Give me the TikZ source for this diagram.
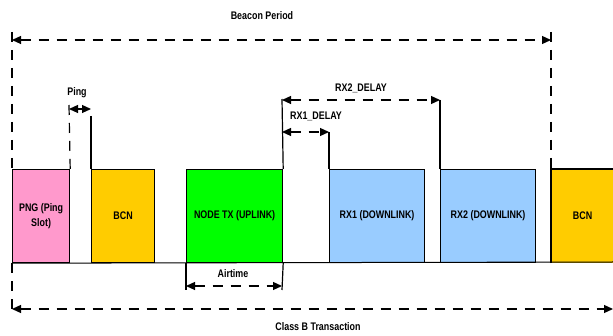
\documentclass[tikz,border=0pt]{standalone}
\usepackage{fontspec}
\setmainfont{Liberation Sans}
\newfontfamily\narrowb[FakeStretch=0.81]{Liberation Sans}
\usetikzlibrary{arrows.meta}
\definecolor{pngpink}{HTML}{FF99CC}
\definecolor{bcnorange}{HTML}{FFCC00}
\definecolor{txgreen}{HTML}{00FF00}
\definecolor{rxblue}{HTML}{99CCFF}
\tikzset{
  slot/.style={draw=black, line width=1.2pt, anchor=north west, minimum height=93pt, inner sep=0pt, align=center},
  lbl/.style={inner sep=0pt},
  dline/.style={line width=1.2pt, dash pattern=on 10pt off 8pt},
  sline/.style={line width=1.2pt},
  dbl/.style={{Triangle[length=9pt,width=8pt]}-{Triangle[length=9pt,width=8pt]}},
}
\begin{document}
\begin{tikzpicture}[x=1pt,y=-1pt,font=\narrowb\bfseries\fontsize{11}{15}\selectfont]
\useasboundingbox (0,0) rectangle (613,336);
% slots
\node[slot, fill=pngpink, minimum width=57pt] (png) at (12,169) {PNG (Ping\\Slot)};
\node[slot, fill=bcnorange, minimum width=63pt] (bcn1) at (91,169) {BCN};
\node[slot, fill=txgreen, minimum width=96pt] (tx) at (186,169) {NODE TX (UPLINK)};
\node[slot, fill=rxblue, minimum width=95pt] (rx1) at (329,169) {RX1 (DOWNLINK)};
\node[slot, fill=rxblue, minimum width=95pt] (rx2) at (440,169) {RX2 (DOWNLINK)};
\node[slot, draw=none, fill=bcnorange, minimum width=62pt] (bcn2) at (551,169) {BCN};
\draw[sline] (bcn2.south west) -- (bcn2.north west) -- (bcn2.north east);
% baseline
\coordinate (bend) at (613,262);
\draw[line width=1pt] (png.south west) -- (bend);
% coordinates
\coordinate (lt) at (12,32);
\coordinate (rt) at (551,32);
\coordinate (bl) at (12,40);
\coordinate (br) at (551,40);
\coordinate (cbl) at (12,309);
\coordinate (cbr) at (613,309);
\coordinate (pingA) at (69,105);
\coordinate (pingB) at (91,116);
\coordinate (pal) at (69,109);
\coordinate (par) at (91,109);
\coordinate (d0) at (282,99);
\coordinate (r2a) at (282,100);
\coordinate (r2b) at (440,100);
\coordinate (r1a) at (282,132);
\coordinate (r1b) at (329,132);
\coordinate (ta) at (186,290);
\coordinate (tb) at (282,290);
\coordinate (aa) at (186,286);
\coordinate (ab) at (282,286);
% beacon period
\draw[dline] (lt) -- (png.north west);
\draw[dline] (rt) -- (bcn2.north west);
\draw[dline, dbl] (bl) -- (br);
\node[lbl] (bp) at (262,16) {Beacon Period};
% ping
\draw[dline] (pingA) -- (png.north east);
\draw[sline] (pingB) -- (bcn1.north west);
\draw[dline, dbl] (pal) -- (par);
\node[lbl] (pingl) at (77,93) {Ping};
% delays
\draw[sline] (d0) -- (tx.north east);
\draw[sline] (r1b) -- (rx1.north west);
\draw[sline] (r2b) -- (rx2.north west);
\draw[dline, dbl] (r2a) -- (r2b);
\draw[dline, dbl] (r1a) -- (r1b);
\node[lbl] (r2l) at (361,88) {RX2\_DELAY};
\node[lbl] (r1l) at (316,116) {RX1\_DELAY};
% airtime
\draw[sline] (tx.south west) -- (ta);
\draw[sline] (tx.south east) -- (tb);
\draw[dline, dbl] (aa) -- (ab);
\node[lbl] (air) at (233,274) {Airtime};
% class B transaction
\draw[dline] (png.south west) -- (cbl);
\draw[dline, dbl] (cbl) -- (cbr);
\node[lbl] (cbt) at (318,327) {Class B Transaction};
\end{tikzpicture}
\end{document}
